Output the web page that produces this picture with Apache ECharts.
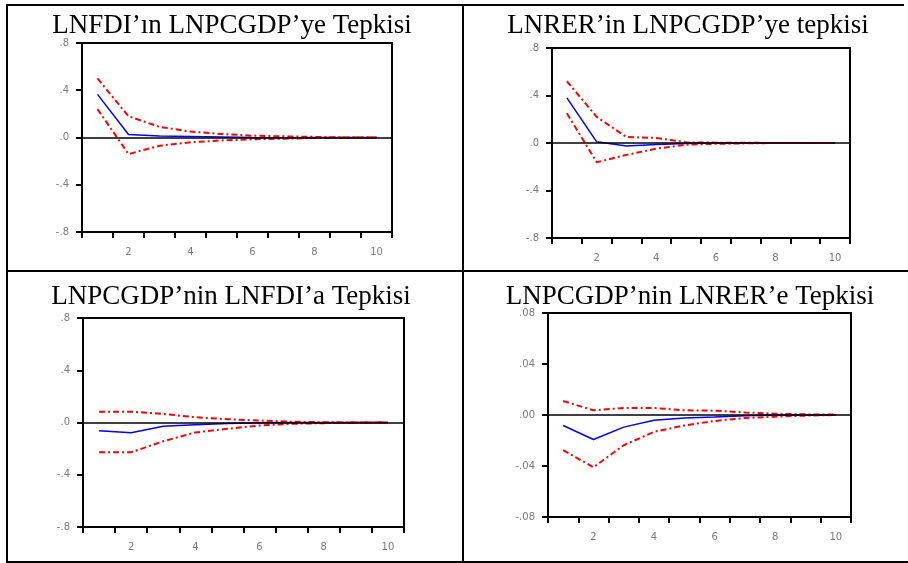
<!DOCTYPE html>
<html>
<head>
<meta charset="utf-8">
<script src="https://cdn.jsdelivr.net/npm/echarts@6/dist/echarts.min.js"></script>
<style>
html,body{margin:0;padding:0;background:#fff;}
#c{width:908px;height:563px;}
</style>
</head>
<body>
<div id="c"></div>
<script>
// ---- data ----
var periods = ['1','2','3','4','5','6','7','8','9','10'];
var xTickLabels = ['', '2', '', '4', '', '6', '', '8', '', '10'];

var titles = [
  'LNFDI\u2019\u0131n LNPCGDP\u2019ye Tepkisi',
  'LNRER\u2019in LNPCGDP\u2019ye tepkisi',
  'LNPCGDP\u2019nin LNFDI\u2019a Tepkisi',
  'LNPCGDP\u2019nin LNRER\u2019e Tepkisi'
];

var p1Resp  = [0.365, 0.025, 0.012, 0.008, 0.005, 0.0, -0.003, 0.0, 0.0, 0.0];
var p1Upper = [0.50, 0.18, 0.09, 0.05, 0.03, 0.015, 0.01, 0.005, 0.0, 0.0];
var p1Lower = [0.24, -0.14, -0.07, -0.04, -0.025, -0.015, -0.01, -0.005, 0.0, 0.0];

var p2Resp  = [0.38, 0.01, -0.025, -0.012, -0.005, 0.0, 0.0, 0.0, 0.0, 0.0];
var p2Upper = [0.52, 0.22, 0.05, 0.043, 0.005, 0.003, 0.002, 0.0, 0.0, 0.0];
var p2Lower = [0.25, -0.162, -0.10, -0.048, -0.014, -0.007, -0.003, 0.0, 0.0, 0.0];

var p3Resp  = [-0.063, -0.078, -0.028, -0.018, -0.008, -0.002, 0.0, 0.0, 0.0, 0.0];
var p3Upper = [0.083, 0.083, 0.066, 0.04, 0.025, 0.015, 0.006, 0.002, 0.0, 0.0];
var p3Lower = [-0.228, -0.228, -0.144, -0.076, -0.048, -0.023, -0.01, -0.005, 0.0, 0.0];

var p4Resp  = [-0.0082, -0.0192, -0.0095, -0.0042, -0.0024, -0.0016, -0.0005, 0.0, 0.0, 0.0];
var p4Upper = [0.011, 0.0037, 0.0055, 0.0055, 0.0037, 0.0034, 0.002, 0.001, 0.0005, 0.0003];
var p4Lower = [-0.0276, -0.041, -0.0237, -0.0132, -0.0082, -0.0047, -0.0024, -0.0013, -0.0005, 0.0];

var yTicksA = ['-.8', '-.4', '.0', '.4', '.8'];
var yTicksB = ['-.08', '-.04', '.00', '.04', '.08'];
var yRangeA = [-0.8, 0.8, 0.4];
var yRangeB = [-0.08, 0.08, 0.04];
var zeroLevel = 0;

// ---- layout ----
var grids = [
  {left: 82, top: 43, width: 310, height: 189},
  {left: 552, top: 48, width: 298, height: 190},
  {left: 83, top: 318, width: 321, height: 209},
  {left: 548, top: 313, width: 303, height: 204}
];
var titlePos = [[227, 7], [683, 7], [226, 278], [685, 278]];
var panels = [
  {resp: p1Resp, up: p1Upper, lo: p1Lower, yt: yTicksA, yr: yRangeA},
  {resp: p2Resp, up: p2Upper, lo: p2Lower, yt: yTicksA, yr: yRangeA},
  {resp: p3Resp, up: p3Upper, lo: p3Lower, yt: yTicksA, yr: yRangeA},
  {resp: p4Resp, up: p4Upper, lo: p4Lower, yt: yTicksB, yr: yRangeB}
];

var option = {
  animation: false,
  backgroundColor: '#fff',
  title: [], grid: [], xAxis: [], yAxis: [], series: [],
  graphic: [
    {type: 'line', shape: {x1: 6, y1: 5, x2: 904, y2: 5}, style: {stroke: '#000', lineWidth: 2}},
    {type: 'line', shape: {x1: 6, y1: 271, x2: 908, y2: 271}, style: {stroke: '#000', lineWidth: 2}},
    {type: 'line', shape: {x1: 6, y1: 562, x2: 908, y2: 562}, style: {stroke: '#000', lineWidth: 2}},
    {type: 'line', shape: {x1: 7, y1: 4, x2: 7, y2: 563}, style: {stroke: '#000', lineWidth: 2}},
    {type: 'line', shape: {x1: 463, y1: 4, x2: 463, y2: 563}, style: {stroke: '#000', lineWidth: 2}}
  ]
};

panels.forEach(function (p, i) {
  option.title.push({
    text: titles[i],
    left: titlePos[i][0], top: titlePos[i][1], textAlign: 'center',
    textStyle: {fontFamily: 'Liberation Serif', fontSize: 27, fontWeight: 'normal', color: '#000'}
  });
  var g = grids[i];
  option.grid.push({left: g.left, top: g.top, width: g.width, height: g.height,
    show: true, borderColor: '#000', borderWidth: 2, backgroundColor: 'transparent'});
  option.xAxis.push({
    type: 'category', gridIndex: i, data: periods, boundaryGap: true,
    axisLine: {onZero: false, lineStyle: {color: '#000', width: 2}},
    axisTick: {show: true, interval: 0, alignWithLabel: false, length: 6, lineStyle: {color: '#000', width: 2}},
    axisLabel: {interval: 0, margin: 15, color: '#7a7a7a', fontSize: 10, fontFamily: 'DejaVu Sans',
      formatter: function (v, idx) { return xTickLabels[idx]; }},
    splitLine: {show: false}
  });
  var yt = p.yt;
  option.yAxis.push({
    type: 'value', gridIndex: i, min: p.yr[0], max: p.yr[1], interval: p.yr[2],
    axisLine: {show: true, lineStyle: {color: '#000', width: 2}},
    axisTick: {show: true, length: 6, lineStyle: {color: '#000', width: 2}},
    axisLabel: {margin: 13, color: '#7a7a7a', fontSize: 10, fontFamily: 'DejaVu Sans',
      formatter: function (v, idx) { return yt[idx]; }},
    splitLine: {show: false}
  });
  option.series.push({
    type: 'line', xAxisIndex: i, yAxisIndex: i, data: [], z: 2, silent: true,
    markLine: {silent: true, symbol: 'none', label: {show: false},
      lineStyle: {color: '#000', width: 1.5, type: 'solid'}, data: [{yAxis: zeroLevel}]}
  });
  option.series.push({
    type: 'line', xAxisIndex: i, yAxisIndex: i, data: p.resp, symbol: 'none', z: 3,
    lineStyle: {color: '#0000ff', width: 1.5}
  });
  option.series.push({
    type: 'line', xAxisIndex: i, yAxisIndex: i, data: p.up, symbol: 'none', z: 4,
    lineStyle: {color: '#ff0000', width: 2, type: [6, 3, 2, 3]}
  });
  option.series.push({
    type: 'line', xAxisIndex: i, yAxisIndex: i, data: p.lo, symbol: 'none', z: 4,
    lineStyle: {color: '#ff0000', width: 2, type: [6, 3, 2, 3]}
  });
});

var chart = echarts.init(document.getElementById('c'), null, {renderer: 'canvas'});
chart.setOption(option);
</script>
</body>
</html>
